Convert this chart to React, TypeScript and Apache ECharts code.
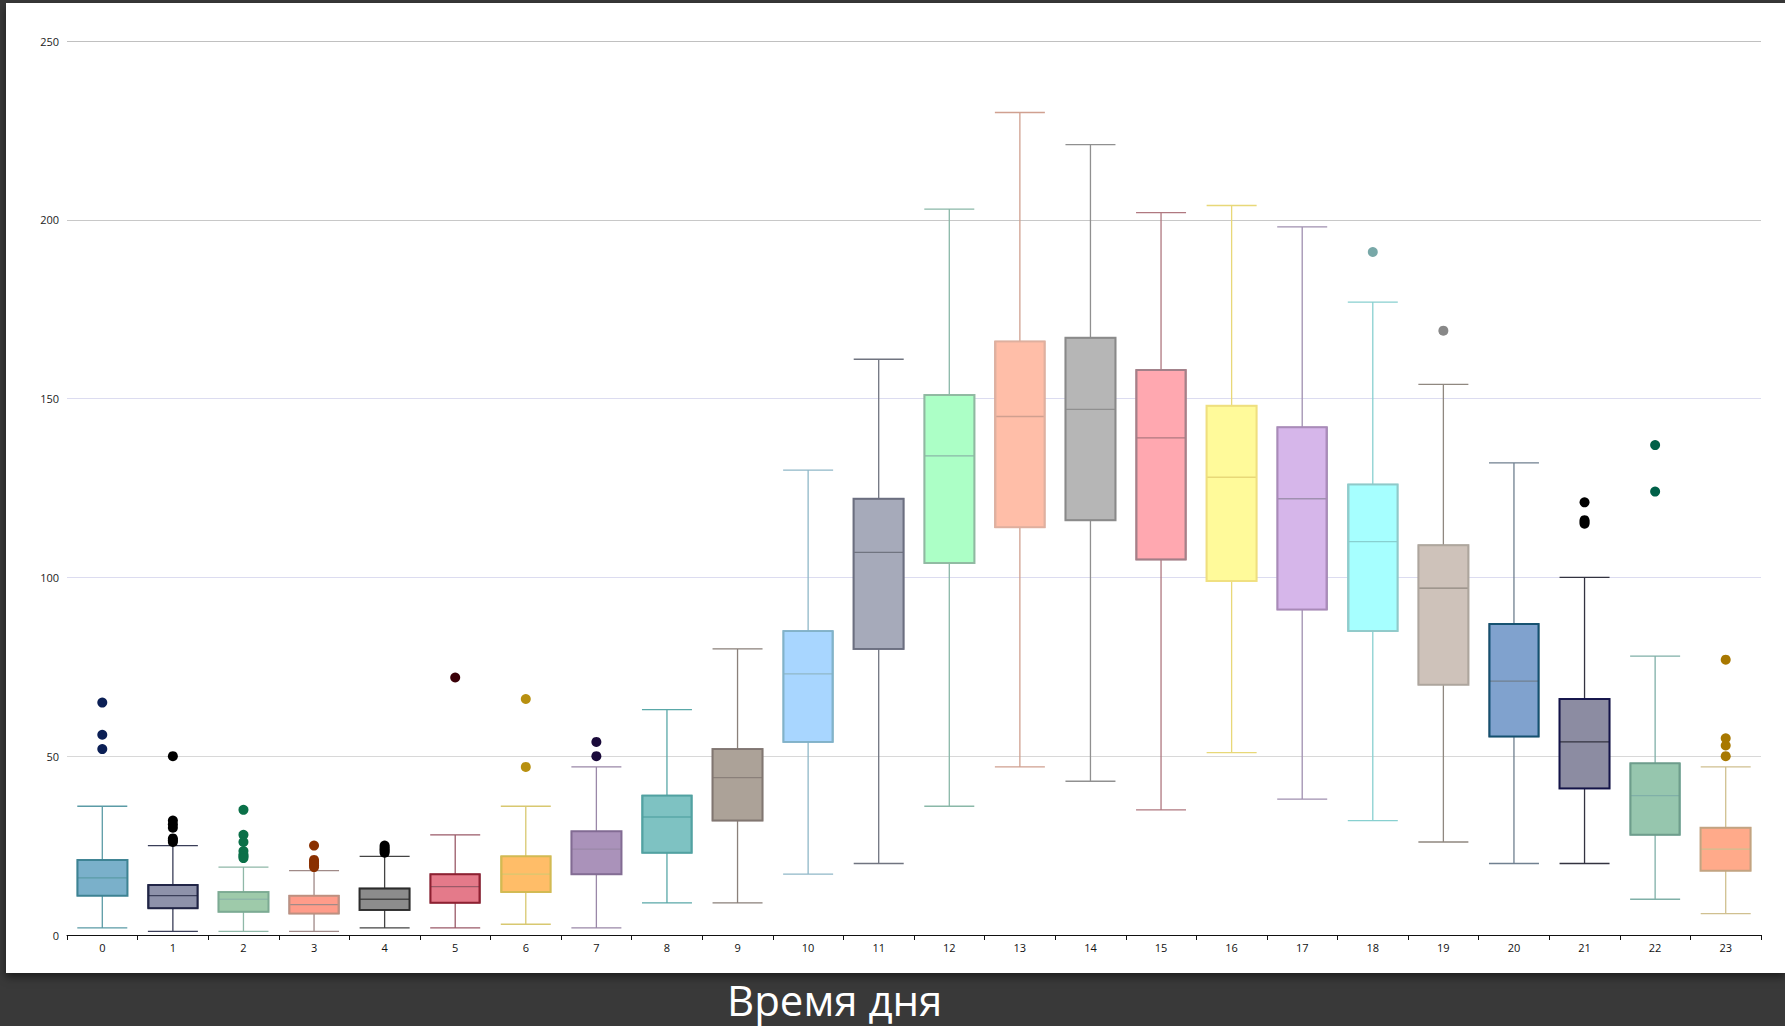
import React, { useEffect, useRef } from "react";
import * as echarts from "echarts";

const categories = ["0","1","2","3","4","5","6","7","8","9","10","11","12","13","14","15","16","17","18","19","20","21","22","23"];
const lowWhisker = [2, 1, 1, 1, 2, 2, 3, 2, 9, 9, 17, 20, 36, 47, 43, 35, 51, 38, 32, 26, 20, 20, 10, 6];
const q1 = [11, 7.5, 6.5, 6, 7, 9, 12, 17, 23, 32, 54, 80, 104, 114, 116, 105, 99, 91, 85, 70, 55.5, 41, 28, 18];
const median = [16, 11, 10, 8.5, 10, 13.5, 17, 24, 33, 44, 73, 107, 134, 145, 147, 139, 128, 122, 110, 97, 71, 54, 39, 24];
const q3 = [21, 14, 12, 11, 13, 17, 22, 29, 39, 52, 85, 122, 151, 166, 167, 158, 148, 142, 126, 109, 87, 66, 48, 30];
const highWhisker = [36, 25, 19, 18, 22, 28, 36, 47, 63, 80, 130, 161, 203, 230, 221, 202, 204, 198, 177, 154, 132, 100, 78, 47];

// outliers: [hour index, value]
const outliers: [number, number][] = [
  [0, 65], [0, 56], [0, 52],
  [1, 50], [1, 32], [1, 31], [1, 30], [1, 27], [1, 26.5], [1, 26],
  [2, 35], [2, 28], [2, 26], [2, 23.5], [2, 22.5], [2, 22], [2, 21.5],
  [3, 25], [3, 21], [3, 20.5], [3, 20], [3, 19.5], [3, 19],
  [4, 25], [4, 24.5], [4, 24], [4, 23.5], [4, 23],
  [5, 72],
  [6, 66], [6, 47],
  [7, 54], [7, 50],
  [18, 191],
  [19, 169],
  [21, 121], [21, 116], [21, 115.5], [21, 115],
  [22, 137], [22, 124],
  [23, 77], [23, 55], [23, 53], [23, 50],
];

const yTicks = [0, 50, 100, 150, 200, 250];
const xTitle = "Время дня";

const fillColors = ["#7ab0ca","#8e92aa","#9ecaaa","#ff9c8a","#8c8c8c","#e47a8a","#ffbd68","#aa92ba","#7ec2c2","#aca298","#a8d6ff","#a6aaba","#acffc6","#ffbea8","#b6b6b6","#ffa8b0","#fffa9a","#d6b6ea","#a6ffff","#cec2ba","#80a2ce","#8c8ca2","#96c6ae","#ffaa8a"];
const whiskerColors = ["#5b9ba6","#3a3e58","#8fb8a8","#a08a88","#444444","#9a5a68","#d8c870","#9a88a8","#5aa8a8","#8a807a","#90b8c8","#707480","#8ab8a8","#d0a090","#909090","#b07880","#e8d878","#a090b0","#88d0d0","#908880","#708090","#333340","#80b0a8","#d0c090"];
const boxBorderColors = ["#3a8090","#1a1e40","#7aa890","#c09080","#2a2a2a","#8a1a2a","#d0b850","#806890","#50a0a0","#807470","#80b0c8","#6a6e80","#90b8a0","#e0b0a0","#888888","#a08088","#f0e080","#a888b8","#90c8c8","#b0a8a0","#0a4a6a","#10104a","#6a9a88","#c0a080"];
const outlierColors = ["#0b1f55","#000000","#0a7048","#8a3000","#000000","#3a0008","#b89010","#1a0a3a","#333333","#333333","#333333","#333333","#333333","#333333","#333333","#333333","#333333","#333333","#78a8a8","#888888","#333333","#000000","#006048","#a87800"];

export default function App() {
  const ref = useRef<HTMLDivElement>(null);
  useEffect(() => {
    if (!ref.current) return;
    const chart = echarts.init(ref.current, null, { renderer: "svg" });
    const boxData = categories.map((_, i) => ({
      value: [lowWhisker[i], q1[i], median[i], q3[i], highWhisker[i]],
      itemStyle: {
        color: fillColors[i],
        borderColor: whiskerColors[i],
        borderWidth: 1.3,
      },
    }));
    const frameData = categories.map((_, i) => ({
      value: [q1[i], q3[i], q1[i], q3[i]],
      itemStyle: {
        color: "rgba(0,0,0,0)",
        color0: "rgba(0,0,0,0)",
        borderColor: boxBorderColors[i],
        borderColor0: boxBorderColors[i],
        borderWidth: 2,
        opacity: 0.9,
      },
    }));
    const outData = outliers.map(([c, v]) => ({
      value: [c, v],
      itemStyle: { color: outlierColors[c], opacity: 1 },
    }));
    chart.setOption({
      animation: false,
      backgroundColor: "transparent",
      title: {
        text: xTitle,
        left: 722,
        top: 973,
        textStyle: { color: "#ffffff", fontSize: 42, fontWeight: "normal", fontFamily: "Open Sans" },
      },
      grid: { left: 67, right: 24, top: 41, bottom: 91 },
      xAxis: {
        type: "category",
        data: categories,
        boundaryGap: true,
        axisLine: { lineStyle: { color: "#111", width: 1 } },
        axisTick: { show: true, length: 5, alignWithLabel: false, lineStyle: { color: "#111" } },
        axisLabel: { color: "#111", fontSize: 11, margin: 7, fontFamily: "Open Sans" },
        splitLine: { show: false },
      },
      yAxis: {
        type: "value",
        min: yTicks[0],
        max: yTicks[yTicks.length - 1],
        interval: 50,
        axisLine: { show: false },
        axisTick: { show: false },
        axisLabel: { color: "#222", fontSize: 11, margin: 8, fontFamily: "Open Sans" },
        splitLine: {
          show: true,
          lineStyle: { color: ["#cccccc", "#d8d8d8", "#dcdcf0", "#dcdcf0", "#c8c8c8", "#c0c0c0"], width: 1 },
        },
      },
      series: [
        {
          type: "boxplot",
          data: boxData,
          boxWidth: [50, 50],
        },
        {
          type: "candlestick",
          data: frameData,
          barWidth: 50,
          z: 3,
        },
        {
          type: "scatter",
          data: outData,
          symbolSize: 10,
          z: 4,
        },
      ],
    });
    return () => chart.dispose();
  }, []);

  return (
    <div style={{ position: "fixed", left: 0, top: 0, width: 1785, height: 1026, background: "#393939", overflow: "hidden" }}>
      <div
        style={{
          position: "absolute",
          left: 6,
          top: 3,
          width: 1779,
          height: 970,
          background: "#ffffff",
          boxShadow: "0 4px 8px rgba(0,0,0,0.5)",
        }}
      />
      <div ref={ref} style={{ position: "absolute", left: 0, top: 0, width: 1785, height: 1026 }} />
    </div>
  );
}
